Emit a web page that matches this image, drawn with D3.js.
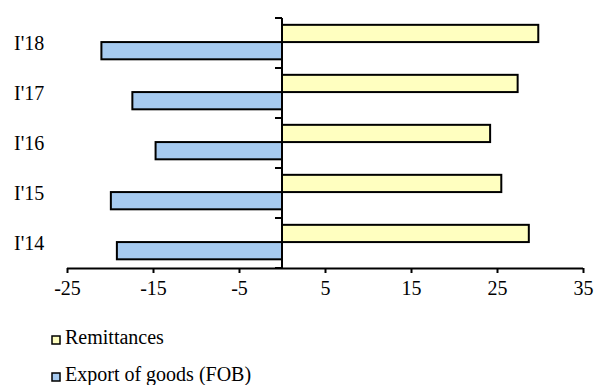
<!DOCTYPE html>
<html>
<head>
<meta charset="utf-8">
<script src="https://cdn.jsdelivr.net/npm/d3@7"></script>
<style>
  html, body { margin: 0; padding: 0; background: #fff; }
  svg { display: block; }
  text { font-family: "Liberation Serif", "Times New Roman", serif; fill: #000; }
</style>
</head>
<body>
<div id="chart"></div>
<script>
// Quarterly flows, top to bottom as drawn
const categories = ["I'18", "I'17", "I'16", "I'15", "I'14"];
const seriesNames = ["Remittances", "Export of goods (FOB)"];
const remittances = [29.8, 27.4, 24.2, 25.5, 28.7];
const exportsFob = [-21.0, -17.4, -14.7, -19.9, -19.2];
const xTickValues = [-25, -15, -5, 5, 15, 25, 35];
const seriesColors = ["#FFFFC0", "#A6CAF0"];

const W = 598, H = 385;
const svg = d3.select("#chart").append("svg").attr("width", W).attr("height", H);

const x = d3.scaleLinear().domain([-25, 35]).range([67, 583]);
const y = d3.scaleBand().domain(categories).range([18, 268]);
const ySub = d3.scaleBand().domain(seriesNames).range([0, y.bandwidth()])
  .paddingOuter(0.45).align(0.44);

const rows = categories.map((c, i) => ({
  cat: c,
  vals: [
    { name: seriesNames[0], v: remittances[i], color: seriesColors[0] },
    { name: seriesNames[1], v: exportsFob[i], color: seriesColors[1] }
  ]
}));

// Bars
const g = svg.append("g");
g.selectAll("g.row").data(rows).join("g")
  .attr("class", "row")
  .attr("transform", d => `translate(0,${y(d.cat)})`)
  .selectAll("rect").data(d => d.vals).join("rect")
  .attr("x", d => Math.min(x(0), x(d.v)))
  .attr("width", d => Math.abs(x(d.v) - x(0)))
  .attr("y", d => ySub(d.name))
  .attr("height", ySub.bandwidth())
  .attr("fill", d => d.color)
  .attr("stroke", "#000")
  .attr("stroke-width", 2);

// X axis
const xAxis = svg.append("g")
  .attr("transform", `translate(0,${y.range()[1]})`)
  .call(d3.axisBottom(x).tickValues(xTickValues).tickFormat(d => String(d))
    .tickSize(5).tickSizeOuter(0).tickPadding(8));
xAxis.select(".domain").attr("stroke", "#000").attr("stroke-width", 2)
  .attr("d", `M${x(-25)},0.5H${x(35)}`);
xAxis.selectAll(".tick line").attr("stroke", "#000").attr("stroke-width", 2);
xAxis.selectAll(".tick text").attr("font-size", 20)
  .attr("font-family", "Liberation Serif, Times New Roman, serif");

// Y axis at zero: ticks between categories
const yAxisG = svg.append("g").attr("transform", `translate(${x(0)},0)`);
yAxisG.append("line")
  .attr("y1", y.range()[0]).attr("y2", y.range()[1])
  .attr("stroke", "#000").attr("stroke-width", 2);
const boundaries = categories.map(c => y(c)).concat([y.range()[1]]);
yAxisG.selectAll("line.tk").data(boundaries).join("line")
  .attr("class", "tk")
  .attr("x1", -7).attr("x2", 0)
  .attr("y1", d => d).attr("y2", d => d)
  .attr("stroke", "#000").attr("stroke-width", 2);

// Category labels at the left edge
svg.selectAll("text.cat").data(categories).join("text")
  .attr("class", "cat")
  .attr("x", 14)
  .attr("y", d => y(d) + y.bandwidth() / 2 + 7)
  .attr("font-size", 20)
  .text(d => d);

// Legend
const legend = svg.selectAll("g.leg").data(seriesNames).join("g")
  .attr("class", "leg")
  .attr("transform", (d, i) => `translate(52,${336 + i * 37})`);
legend.append("rect")
  .attr("width", 8).attr("height", 8)
  .attr("fill", (d, i) => seriesColors[i])
  .attr("stroke", "#000").attr("stroke-width", 1.5);
legend.append("text")
  .attr("x", 13).attr("y", 8)
  .attr("font-size", 20)
  .text(d => d);
</script>
</body>
</html>
